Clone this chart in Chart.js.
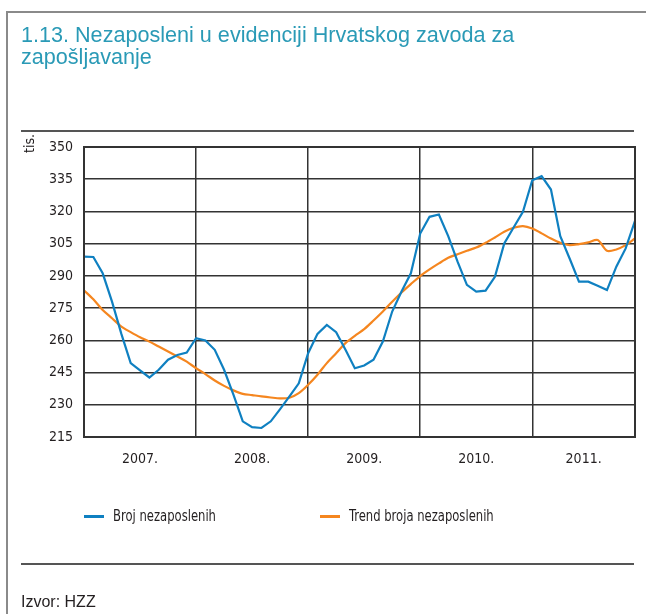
<!doctype html>
<html lang="hr">
<head>
<meta charset="utf-8">
<title>Nezaposleni u evidenciji HZZ</title>
<style>
  body { margin: 0; background: #fff; }
  #wrap { position: relative; width: 646px; height: 614px; overflow: hidden;
          font-family: "Liberation Sans Narrow", "DejaVu Sans Condensed", sans-serif; color: #231f20; }
  #frameL { position: absolute; left: 6px; top: 11px; width: 2px; height: 603px; background: #8a8a8a; }
  #frameT { position: absolute; left: 6px; top: 11px; width: 640px; height: 2px; background: #8a8a8a; }
  .rule { position: absolute; left: 21px; width: 613px; height: 1.5px; background: #555; }
  #title { position: absolute; left: 21px; top: 24px; font-family: "Liberation Sans", Arial, sans-serif;
           font-size: 21.6px; line-height: 22px; color: #2a9ab6; }
  #unit { position: absolute; left: 21px; top: 138px; font-size: 14px; transform-origin: left top;
          transform: rotate(-90deg) translate(-15px, 0); }
  #legend { position: absolute; top: 507px; left: 0; font-size: 15px; }
  .item { position: absolute; white-space: nowrap; display: flex; align-items: center; }
  .item i { display: inline-block; width: 20px; height: 3px; margin-right: 9px; }
  .item span { display: inline-block; transform: scaleX(0.86); transform-origin: left center; }
  #source { position: absolute; left: 21px; top: 593px; font-family: "Liberation Sans", Arial, sans-serif;
            font-size: 16px; }
  canvas { position: absolute; left: 0; top: 0; }
</style>
</head>
<body>
<div id="wrap">
  <canvas id="chart" width="646" height="614"></canvas>
  <div id="frameL"></div>
  <div id="frameT"></div>
  <div id="title"></div>
  <div class="rule" style="top:130px"></div>
  <div id="unit"></div>
  <div id="legend"></div>
  <div class="rule" style="top:563px"></div>
  <div id="source"></div>
</div>
<script src="https://cdn.jsdelivr.net/npm/chart.js@4.4.1/dist/chart.umd.min.js"></script>
<script>
const titleText = '1.13. Nezaposleni u evidenciji Hrvatskog zavoda za<br>zapošljavanje';
const unitText = 'tis.';
const sourceText = 'Izvor: HZZ';

// years on the axis and where their labels sit (month index, Jan 2007 = 0)
const years = ['2007.', '2008.', '2009.', '2010.', '2011.'];
const yearLabelPos = [6, 18, 30, 42, 53.5];
const yearBreaks = [0, 12, 24, 36, 48, 59];

const seriesNames = ['Broj nezaposlenih', 'Trend broja nezaposlenih'];
const seriesColors = ['#0f80c1', '#f5861f'];

// monthly values, thousands, Jan 2007 - Dec 2011
const broj = [
  299, 298.8, 291.2, 278, 263, 249.4, 246, 242.7, 246.3, 251, 253.2, 254.3,
  261, 259.9, 255.6, 246.3, 234.7, 222.3, 219.6, 219.2, 222.3, 228, 233.9, 240,
  254, 263, 267.2, 263.8, 255.6, 247, 248.3, 251, 259.4, 273.4, 282.7, 291.2,
  309.7, 317.5, 318.6, 308.5, 296.6, 285.8, 282.7, 283.1, 289.6, 305.1, 312.5, 319.8,
  334.5, 336.4, 330.2, 308.5, 298.1, 287.3, 287.3, 285.4, 283.4, 294.3, 302.8, 315.6
];
const trend = [
  283.3, 279.1, 274.1, 270.3, 266.4, 263.8, 261.4, 259.4, 257.1, 254.8, 252.5, 250.1,
  247, 244.3, 241.3, 238.8, 236.7, 235.1, 234.5, 233.9, 233.4, 233, 233.3, 235.4,
  239.3, 244, 249.4, 254, 258.7, 262.1, 265.2, 269.2, 273.4, 278, 282.3, 286.2,
  289.9, 293, 295.8, 298.4, 300.1, 301.7, 303.2, 305.4, 307.9, 310.5, 312.4, 313.2,
  312.1, 309.8, 307.4, 305.4, 304.3, 304.8, 305.6, 306.7, 301.7, 302.3, 304.3, 307.4
];

const yMin = 215, yMax = 350, yStep = 15;

document.getElementById('title').innerHTML = titleText;
document.getElementById('unit').textContent = unitText;
document.getElementById('source').textContent = sourceText;

const legendX = [84, 320];
const legend = document.getElementById('legend');
seriesNames.forEach((name, i) => {
  const d = document.createElement('div');
  d.className = 'item';
  d.style.left = legendX[i] + 'px';
  d.innerHTML = '<i style="background:' + seriesColors[i] + '"></i><span>' + name + '</span>';
  legend.appendChild(d);
});

const toPoints = arr => arr.map((v, i) => ({ x: i, y: v }));
const tickFont = { family: "'Liberation Sans Narrow', 'DejaVu Sans Condensed', sans-serif", size: 14 };

// plot border on all four sides
const frame = {
  id: 'frame',
  afterDraw(chart) {
    const a = chart.chartArea, c = chart.ctx;
    c.save();
    c.strokeStyle = '#333';
    c.lineWidth = 2;
    c.strokeRect(a.left, a.top, a.right - a.left, a.bottom - a.top);
    c.restore();
  }
};

new Chart(document.getElementById('chart'), {
  type: 'line',
  data: {
    datasets: [
      { label: seriesNames[0], data: toPoints(broj), borderColor: seriesColors[0], borderWidth: 2.2,
        pointRadius: 0, tension: 0, xAxisID: 'x', yAxisID: 'y' },
      { label: seriesNames[1], data: toPoints(trend), borderColor: seriesColors[1], borderWidth: 2.2,
        pointRadius: 0, tension: 0.3, xAxisID: 'x', yAxisID: 'y' }
    ]
  },
  options: {
    responsive: false,
    animation: false,
    layout: { padding: { left: 0, right: 11, top: 147, bottom: 137 } },
    plugins: { legend: { display: false }, tooltip: { enabled: false } },
    scales: {
      x: {
        type: 'linear', min: 0, max: 59,
        afterBuildTicks: s => { s.ticks = yearBreaks.map(v => ({ value: v })); },
        afterFit: s => { s.height = 0; },
        ticks: { display: false },
        grid: { color: '#333', lineWidth: 1.5, drawTicks: false },
        border: { display: false }
      },
      years: {
        type: 'linear', position: 'bottom', min: 0, max: 59,
        afterBuildTicks: s => { s.ticks = yearLabelPos.map(v => ({ value: v })); },
        afterFit: s => { s.height = 40; },
        ticks: {
          color: '#231f20', font: tickFont, padding: 14, maxRotation: 0, autoSkip: false,
          callback: (v, i) => years[i]
        },
        grid: { display: false, drawTicks: false },
        border: { display: false }
      },
      y: {
        min: yMin, max: yMax,
        afterFit: s => { s.width = 84; },
        ticks: { stepSize: yStep, color: '#231f20', font: tickFont, padding: 11 },
        grid: { color: '#333', lineWidth: 1.5, drawTicks: false },
        border: { display: false }
      }
    }
  },
  plugins: [frame]
});
</script>
</body>
</html>
